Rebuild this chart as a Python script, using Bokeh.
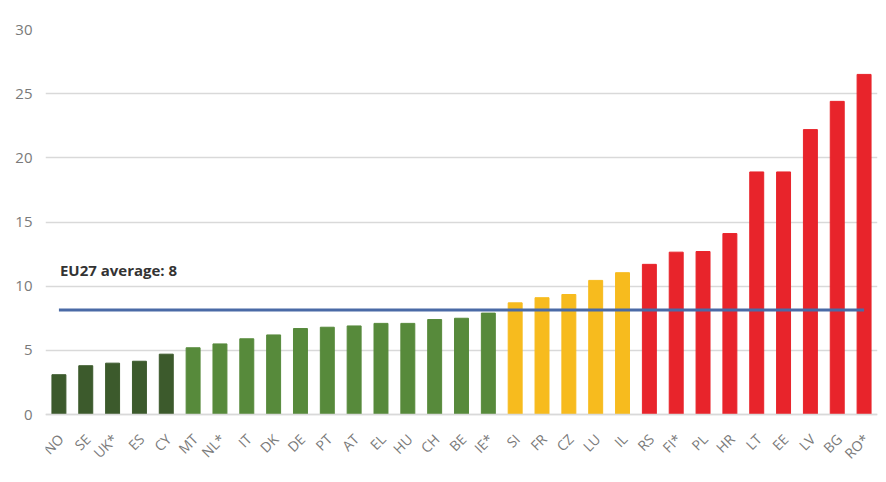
from bokeh.plotting import figure
from bokeh.models import ColumnDataSource, FactorRange, Range1d, Span
from bokeh.core.properties import value
from bokeh.embed import file_html
from bokeh.resources import INLINE
import math

countries = ["NO", "SE", "UK*", "ES", "CY", "MT", "NL*", "IT", "DK", "DE", "PT", "AT",
             "EL", "HU", "CH", "BE", "IE*", "SI", "FR", "CZ", "LU", "IL", "RS", "FI*",
             "PL", "HR", "LT", "EE", "LV", "BG", "RO*"]
values = [3.1, 3.8, 4.0, 4.15, 4.7, 5.2, 5.5, 5.9, 6.2, 6.7, 6.8, 6.9,
          7.1, 7.1, 7.4, 7.5, 7.9, 8.7, 9.1, 9.35, 10.45, 11.05, 11.7, 12.65,
          12.7, 14.1, 18.9, 18.9, 22.2, 24.4, 26.5]
groups = ["low"] * 5 + ["mid"] * 12 + ["high"] * 5 + ["top"] * 9
eu_average = 8.15
eu_label = "EU27 average: 8"
label_y = 10.45
y_ticks = [0, 5, 10, 15, 20, 25, 30]

palette = {"low": "#3c5a2c", "mid": "#578a3b", "high": "#f7bb1e", "top": "#e8242b"}
colors = [palette[g] for g in groups]

src = ColumnDataSource(dict(x=countries, top=values, color=colors,
                            base=[0] * len(countries)))

px_per_unit = 385 / 30.0
p = figure(width=880, height=478, x_range=FactorRange(*countries, range_padding=0),
           y_range=Range1d(-60 / px_per_unit, 30), output_backend="svg",
           toolbar_location=None,
           min_border_left=45, min_border_right=3, min_border_top=29, min_border_bottom=4)
p.outline_line_color = None
p.background_fill_color = "white"
p.border_fill_color = "white"
p.xaxis.visible = False

p.add_layout(Span(location=0, dimension="width", line_color="#d9d9d9", line_width=1.5))

p.vbar(x="x", top="top", width=0.52, color="color", source=src)
p.line(x=[countries[0], countries[-1]], y=[eu_average, eu_average],
       line_color="#4a6aa6", line_width=3)

p.text(x=[countries[0]], y=[label_y], text=[eu_label], x_offset=1,
       text_font=value("Open Sans"), text_font_style="bold",
       text_font_size="15px", text_color="#333333",
       text_align="left", text_baseline="bottom")

p.text(x="x", y="base", text="x", source=src, angle=math.pi / 4,
       x_offset=2, y_offset=22, text_align="right", text_baseline="middle",
       text_font=value("Open Sans"), text_font_size="14px", text_color="#7a7a7a")

p.xgrid.grid_line_color = None
p.ygrid.grid_line_color = "#d9d9d9"
p.ygrid.grid_line_width = 1.5
p.yaxis.ticker = y_ticks
p.yaxis.axis_line_color = None
p.yaxis.major_tick_line_color = None
p.yaxis.minor_tick_line_color = None
p.yaxis.major_label_text_font = "Open Sans"
p.yaxis.major_label_text_font_size = "15px"
p.yaxis.major_label_text_color = "#7a7a7a"
p.yaxis.major_label_standoff = 7

open("out.html", "w").write(file_html(p, INLINE))
